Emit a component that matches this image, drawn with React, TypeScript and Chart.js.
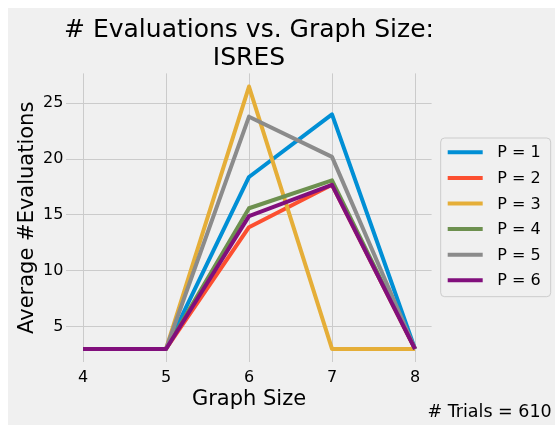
import React, { useEffect, useRef } from "react";
import { Chart, registerables } from "chart.js";

Chart.register(...registerables);

const graphSizes = [4, 5, 6, 7, 8];
const seriesLabels = ["P = 1", "P = 2", "P = 3", "P = 4", "P = 5", "P = 6"];
const p1 = [3, 3, 18.4, 24.0, 3];
const p2 = [3, 3, 13.9, 17.7, 3];
const p3 = [3, 3, 26.5, 3, 3];
const p4 = [3, 3, 15.6, 18.1, 3];
const p5 = [3, 3, 23.8, 20.2, 3];
const p6 = [3, 3, 14.9, 17.7, 3];
const seriesValues = [p1, p2, p3, p4, p5, p6];
const colors = ["#008fd5", "#fc4f30", "#e5ae38", "#6d904f", "#8b8b8b", "#810f7c"];
const yTicks = [5, 10, 15, 20, 25];
const titleLines = ["# Evaluations vs. Graph Size:", "ISRES"];
const xTitle = "Graph Size";
const yTitle = "Average #Evaluations";
const footnote = "# Trials = 610";

const FONT = "'DejaVu Sans', sans-serif";
const W = 547;
const H = 417;

const decorPlugin = {
  id: "decor",
  beforeDraw(chart: any) {
    const ctx = chart.ctx;
    ctx.save();
    ctx.fillStyle = "#f0f0f0";
    ctx.fillRect(0, 0, chart.width, chart.height);
    ctx.restore();
  },
  afterDraw(chart: any) {
    const ctx = chart.ctx;
    const ca = chart.chartArea;
    const cx = (ca.left + ca.right) / 2;
    const cy = (ca.top + ca.bottom) / 2;
    ctx.save();
    ctx.fillStyle = "#000";
    // title
    ctx.font = `25px ${FONT}`;
    ctx.textAlign = "center";
    ctx.textBaseline = "alphabetic";
    ctx.fillText(titleLines[0], cx, 28.7);
    ctx.fillText(titleLines[1], cx, 57);
    // x title
    ctx.font = `21px ${FONT}`;
    ctx.fillText(xTitle, cx, 397);
    // y title
    ctx.save();
    ctx.translate(24.5, cy);
    ctx.rotate(-Math.PI / 2);
    ctx.textBaseline = "alphabetic";
    ctx.fillText(yTitle, 0, 0);
    ctx.restore();
    // footnote
    ctx.font = `17.5px ${FONT}`;
    ctx.textAlign = "right";
    ctx.fillText(footnote, 543.7, 408.7);
    // legend
    const lx = 432.7, ly = 130, lw = 110, lh = 158.7, r = 4;
    ctx.beginPath();
    ctx.moveTo(lx + r, ly);
    ctx.arcTo(lx + lw, ly, lx + lw, ly + lh, r);
    ctx.arcTo(lx + lw, ly + lh, lx, ly + lh, r);
    ctx.arcTo(lx, ly + lh, lx, ly, r);
    ctx.arcTo(lx, ly, lx + lw, ly, r);
    ctx.closePath();
    ctx.fillStyle = "rgba(240,240,240,0.8)";
    ctx.fill();
    ctx.strokeStyle = "#cccccc";
    ctx.lineWidth = 1;
    ctx.stroke();
    ctx.font = `16px ${FONT}`;
    ctx.textAlign = "left";
    ctx.textBaseline = "middle";
    seriesLabels.forEach((lab, i) => {
      const y = 144.3 + 25.6 * i;
      ctx.strokeStyle = colors[i];
      ctx.lineWidth = 4;
      ctx.lineCap = "butt";
      ctx.beginPath();
      ctx.moveTo(439.7, y);
      ctx.lineTo(474.7, y);
      ctx.stroke();
      ctx.fillStyle = "#000";
      ctx.fillText(lab, 489.3, y + 1);
    });
    ctx.restore();
  },
};

export default function App() {
  const ref = useRef<HTMLCanvasElement>(null);
  useEffect(() => {
    document.body.style.overflow = "hidden";
    const canvas = ref.current!;
    const chart = new Chart(canvas, {
      type: "line",
      data: {
        datasets: seriesValues.map((vals, i) => ({
          label: seriesLabels[i],
          data: vals.map((v, j) => ({ x: graphSizes[j], y: v })),
          borderColor: colors[i],
          backgroundColor: colors[i],
          borderWidth: 4,
          pointRadius: 0,
          borderJoinStyle: "round" as const,
          borderCapStyle: "butt" as const,
          tension: 0,
          order: seriesValues.length - 1 - i,
        })),
      },
      options: {
        responsive: false,
        animation: false,
        devicePixelRatio: 1,
        layout: { padding: { left: 0, top: 65.4, right: 123.4, bottom: 0 } },
        plugins: {
          legend: { display: false },
          title: { display: false },
          tooltip: { enabled: false },
        },
        scales: {
          x: {
            type: "linear",
            min: 3.8,
            max: 8.2,
            afterBuildTicks: (s: any) => {
              s.ticks = graphSizes.map((v) => ({ value: v }));
            },
            afterFit: (s: any) => {
              s.height = H - 354.1;
            },
            border: { display: false },
            grid: { color: "#cbcbcb", lineWidth: 1, drawTicks: false },
            ticks: {
              padding: 6,
              color: "#000",
              font: { family: FONT, size: 16 },
              callback: (v: any) => String(v),
            },
          },
          y: {
            type: "linear",
            min: 1.825,
            max: 27.675,
            afterBuildTicks: (s: any) => {
              s.ticks = yTicks.map((v) => ({ value: v }));
            },
            afterFit: (s: any) => {
              s.width = 58.4;
            },
            border: { display: false },
            grid: { color: "#cbcbcb", lineWidth: 1, drawTicks: false },
            ticks: {
              padding: 3,
              color: "#000",
              font: { family: FONT, size: 16 },
              callback: (v: any) => String(v),
            },
          },
        },
      },
      plugins: [decorPlugin],
    });
    return () => chart.destroy();
  }, []);
  return (
    <div style={{ position: "absolute", left: 8, top: 8, width: W, height: H }}>
      <canvas ref={ref} width={W} height={H} style={{ display: "block", width: W, height: H }} />
    </div>
  );
}
